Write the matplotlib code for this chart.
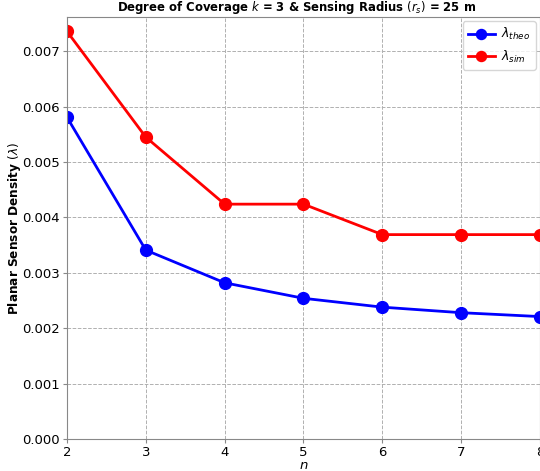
import matplotlib
matplotlib.use('Agg')
from matplotlib import pyplot as plt

n = [2, 3, 4, 5, 6, 7, 8]
lam_theo = [0.00581, 0.00341, 0.00282, 0.00254, 0.00238, 0.00228, 0.00221]
lam_sim = [0.00736, 0.00545, 0.00424, 0.00424, 0.00369, 0.00369, 0.00369]
yticks = [0.000, 0.001, 0.002, 0.003, 0.004, 0.005, 0.006, 0.007]

plt.rcParams['font.size'] = 9.5

fig = plt.figure(figsize=(5.4, 4.71), dpi=100)
ax = fig.add_axes([0.124, 0.068, 0.876, 0.896])

ax.plot(n, lam_theo, color='blue', marker='o', markersize=8.5, linewidth=2,
        label=r'$\lambda_{theo}$')
ax.plot(n, lam_sim, color='red', marker='o', markersize=8.5, linewidth=2,
        label=r'$\lambda_{sim}$')

ax.set_xlim(2, 8)
ax.set_ylim(0, 0.00762)
ax.set_xticks(n)
ax.set_yticks(yticks)
ax.set_yticklabels(['%.3f' % v for v in yticks])
ax.grid(True, linestyle='--', color='#b0b0b0', linewidth=0.7)

for s in ax.spines.values():
    s.set_color('#888888')
ax.tick_params(color='#888888', length=3, pad=2)

ax.set_xlabel(r'$n$', labelpad=0)
ax.set_ylabel(r'Planar Sensor Density $(\lambda)$', fontweight='bold', fontsize=8.7)
ax.yaxis.set_label_coords(-0.093, 0.5)
ax.set_title(r'Degree of Coverage $k$ = 3 & Sensing Radius $(r_s)$ = 25 m',
             fontweight='bold', fontsize=8.4, pad=4, x=0.485)
ax.legend(loc='upper right', fontsize=9, handlelength=2.2, labelspacing=0.5,
          borderaxespad=0.35, markerscale=0.85, handletextpad=0.5)

fig.savefig('out.png', dpi=100)
